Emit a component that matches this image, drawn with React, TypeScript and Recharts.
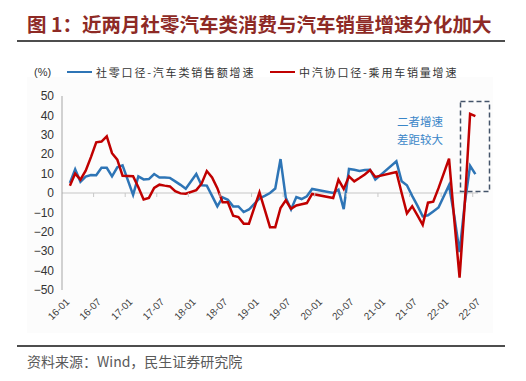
import React from 'react';
import { LineChart, Line, XAxis, YAxis, ReferenceLine } from 'recharts';

const months = [
  '16-01','16-02','16-03','16-04','16-05','16-06','16-07','16-08','16-09','16-10','16-11','16-12',
  '17-01','17-02','17-03','17-04','17-05','17-06','17-07','17-08','17-09','17-10','17-11','17-12',
  '18-01','18-02','18-03','18-04','18-05','18-06','18-07','18-08','18-09','18-10','18-11','18-12',
  '19-01','19-02','19-03','19-04','19-05','19-06','19-07','19-08','19-09','19-10','19-11','19-12',
  '20-01','20-02','20-03','20-04','20-05','20-06','20-07','20-08','20-09','20-10','20-11','20-12',
  '21-01','21-02','21-03','21-04','21-05','21-06','21-07','21-08','21-09','21-10','21-11','21-12',
  '22-01','22-02','22-03','22-04','22-05','22-06','22-07',
];

// 社零口径-汽车类销售额增速 (%)
const retailAutoSales: (number | null)[] = [
  null, 5.2, 12.2, 5.8, 8.5, 9.3, 9.2, 13, 13, 8.6, 13.2, 14.2,
  null, -1, 8.6, 7, 7.2, 9.8, 8, 8, 7.8, 6, 4.2, 2.2,
  null, 9.8, 4, 3.8, -1.5, -6.9, -2.3, -3.5, -6.9, -6.9, -9.8, -8.5,
  null, -2.8, -1.5, 0, 2.3, 17.5, -2.5, -8.5, -2.1, -3.1, -1.7, 2.1,
  null, null, null, 0, 1.7, -8.3, 12.4, 12, 11.4, 11.8, 12, 6.9,
  null, null, null, 16.3, 6, 4, -1.5, -6.5, -12, -11.5, -9.5, -7.5,
  null, 4, -12, -30.5, -5, 14, 9.7,
];

// 中汽协口径-乘用车销量增速 (%)
const passengerCarSales: (number | null)[] = [
  null, 3.8, 10, 6.9, 11.5, 18.5, 26.1, 26.5, 29.2, 20.5, 17.2, 8.9,
  null, 8.6, 3, -3.3, -2.5, 2.6, 4.3, 3.8, 3.4, 0.9, -0.2, -0.4,
  null, 1.5, 4.8, 11.3, 8, 2.5, -4.8, -4.8, -11.7, -12.4, -15.8, -15.8,
  null, 0.3, -8.6, -17.6, -17.6, -7.7, -3.8, -8.1, -6.4, -5.8, -5.2, -0.5,
  null, null, null, -2.6, 6.9, 2.1, 8.6, 6, 7.7, 9.5, 11.8, 8.3,
  null, null, null, 10.8, 0, -10.5, -6.8, -11.5, -16.4, -5, -4.5, 2.5,
  null, 17.7, -14, -43.6, -5, 40.8, 39.6,
];

const yTicks = [-50, -40, -30, -20, -10, 0, 10, 20, 30, 40, 50];
const seriesKeys = ['retail', 'passenger'];
const seriesNames = ['社零口径-汽车类销售额增速', '中汽协口径-乘用车销量增速'];
const seriesColors = ['#2E75B6', '#C00000'];
const titleText = '图 1：近两月社零汽车类消费与汽车销量增速分化加大';
const sourceText = '资料来源：Wind，民生证券研究院';
const annotationLines = ['二者增速', '差距较大'];
const unitLabel = '(%)';

const data = months.map((m, i) => ({
  month: m,
  retail: retailAutoSales[i],
  passenger: passengerCarSales[i],
}));

const W = 526;
const H = 381;
const PLOT_LEFT = 62;
const PLOT_TOP = 96;
const PLOT_RIGHT = 478;
const PLOT_BOTTOM = 290;
const X_AXIS_H = 40;

const CJK = "'Noto Sans CJK SC', 'Noto Sans', sans-serif";
const LATIN = "'Liberation Sans', Arial, 'Noto Sans CJK SC', sans-serif";

const XTick = (props: any) => {
  const { x, y, payload } = props;
  const bw = (PLOT_RIGHT - PLOT_LEFT) / months.length;
  const zeroY = PLOT_TOP + (PLOT_BOTTOM - PLOT_TOP) / 2;
  const ax = x + 3;
  const ay = y + 2;
  return (
    <g>
      {payload.value !== months[0] && (
        <line x1={x - bw / 2} x2={x - bw / 2} y1={zeroY} y2={zeroY + 4} stroke="#c8c8c8" strokeWidth={1} />
      )}
      <text
        x={ax}
        y={ay}
        transform={`rotate(-45 ${ax} ${ay})`}
        textAnchor="end"
        dy="0.35em"
        fontSize={10}
        fontFamily={LATIN}
        fill="#404040"
      >
        {payload.value}
      </text>
    </g>
  );
};

const fmtY = (v: number) => (v < 0 ? '\u2212' + Math.abs(v) : String(v));

export default function App() {
  return (
    <div style={{ position: 'absolute', left: 0, top: 0, width: W, height: H, background: '#fff', overflow: 'hidden' }}>
      {/* Title */}
      <div style={{ position: 'absolute', left: 27, top: 13, fontFamily: CJK, fontWeight: 700, fontSize: 19.5, lineHeight: '22px', color: '#8E2A25', whiteSpace: 'nowrap' }}>
        {titleText}
      </div>
      <div style={{ position: 'absolute', left: 17, top: 40, width: 488, height: 2, background: '#4d4d4d' }} />

      {/* chart panel */}
      <div style={{ position: 'absolute', left: 27, top: 77, width: 466, height: 256, background: '#fcfcfc' }} />

      {/* unit */}
      <div style={{ position: 'absolute', left: 34, top: 65, fontFamily: LATIN, fontSize: 11, lineHeight: '14px', color: '#333' }}>
        {unitLabel}
      </div>

      {/* legend */}
      {seriesNames.map((name, i) => (
        <div key={name} style={{ position: 'absolute', left: i === 0 ? 67 : 270, top: 65, height: 14, display: 'flex', alignItems: 'center', whiteSpace: 'nowrap' }}>
          <div style={{ width: 25, height: 2.5, background: seriesColors[i] }} />
          <span style={{ marginLeft: 4, fontFamily: CJK, fontSize: 11, lineHeight: '14px', letterSpacing: 1.8, color: '#333' }}>{name}</span>
        </div>
      ))}

      <div style={{ position: 'absolute', left: 0, top: 0 }}>
        <LineChart
          width={W}
          height={H}
          data={data}
          margin={{ top: PLOT_TOP, right: W - PLOT_RIGHT, bottom: H - PLOT_BOTTOM - X_AXIS_H, left: 0 }}
        >
          <XAxis
            dataKey="month"
            scale="band"
            interval={5}
            tickLine={false}
            axisLine={false}
            height={X_AXIS_H}
            tick={XTick}
          />
          <YAxis
            width={PLOT_LEFT}
            domain={[-50, 50]}
            ticks={yTicks}
            interval={0}
            tickFormatter={fmtY}
            tickLine={false}
            axisLine={{ stroke: '#a6a6a6', strokeWidth: 1 }}
            tick={{ fontSize: 12, fill: '#333', fontFamily: LATIN }}
          />
          <ReferenceLine y={0} stroke="#d9d9d9" strokeWidth={1.5} />
          {seriesKeys.map((k, i) => (
            <Line
              key={k}
              type="linear"
              dataKey={k}
              name={seriesNames[i]}
              stroke={seriesColors[i]}
              strokeWidth={2.5}
              dot={false}
              connectNulls
              isAnimationActive={false}
            />
          ))}
        </LineChart>
      </div>

      {/* annotation */}
      <svg style={{ position: 'absolute', left: 0, top: 0 }} width={W} height={H}>
        <rect x={460.5} y={101.5} width={29} height={90} fill="none" stroke="#44546A" strokeWidth={1.5} strokeDasharray="5 3" />
      </svg>
      <div style={{ position: 'absolute', left: 397, top: 113, fontFamily: CJK, fontSize: 11.5, lineHeight: '17.5px', color: '#3A86C8', whiteSpace: 'nowrap' }}>
        {annotationLines.map((t) => (
          <div key={t}>{t}</div>
        ))}
      </div>

      <div style={{ position: 'absolute', left: 17, top: 345, width: 488, height: 2, background: '#4d4d4d' }} />
      <div style={{ position: 'absolute', left: 27, top: 352, fontFamily: CJK, fontSize: 14, lineHeight: '18px', color: '#595959', whiteSpace: 'nowrap' }}>
        {sourceText}
      </div>
    </div>
  );
}
